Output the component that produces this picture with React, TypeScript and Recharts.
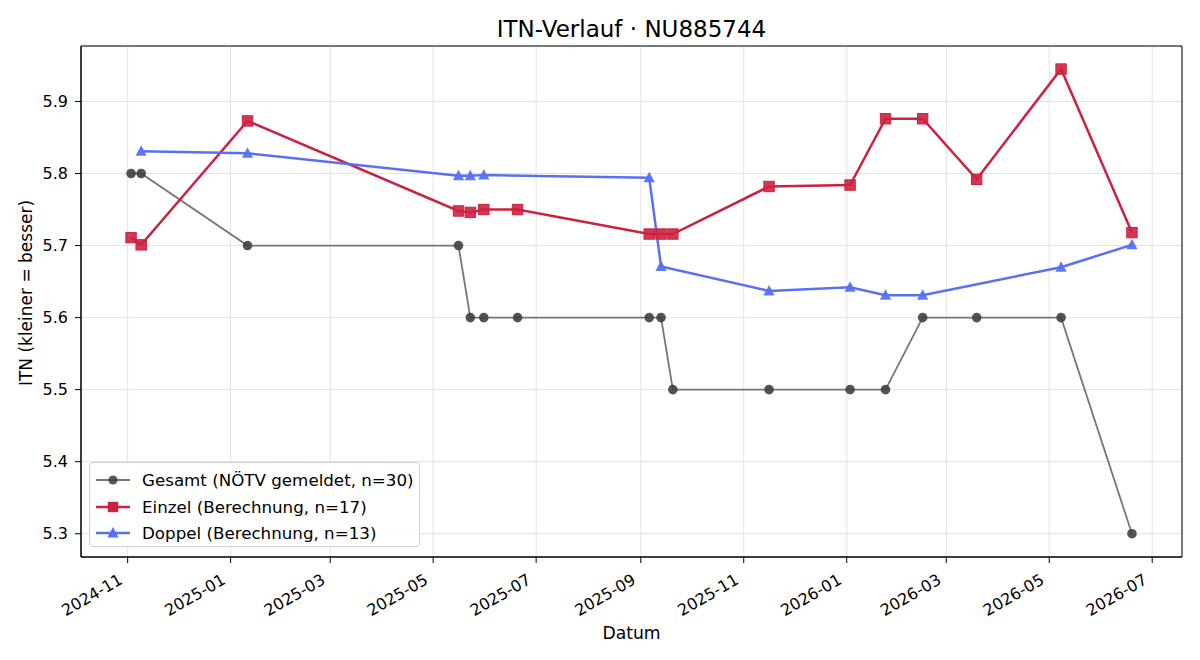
import * as React from 'react';
import { LineChart, Line, XAxis, YAxis, CartesianGrid, ReferenceArea } from 'recharts';

// ITN history for NU885744: total (reported) vs. single/double (computed)

const GESAMT_DATES = [
  '2024-11-03', '2024-11-09', '2025-01-11', '2025-05-16', '2025-05-23', '2025-05-31',
  '2025-06-20', '2025-09-06', '2025-09-13', '2025-09-20', '2025-11-16', '2026-01-03',
  '2026-01-24', '2026-02-15', '2026-03-19', '2026-05-08', '2026-06-19',
];
const GESAMT_VALUES = [5.8, 5.8, 5.7, 5.7, 5.6, 5.6, 5.6, 5.6, 5.6, 5.5, 5.5, 5.5, 5.5, 5.6, 5.6, 5.6, 5.3];

const EINZEL_DATES = [
  '2024-11-03', '2024-11-09', '2025-01-11', '2025-05-16', '2025-05-23', '2025-05-31',
  '2025-06-20', '2025-09-06', '2025-09-13', '2025-09-20', '2025-11-16', '2026-01-03',
  '2026-01-24', '2026-02-15', '2026-03-19', '2026-05-08', '2026-06-19',
];
const EINZEL_VALUES = [
  5.711, 5.701, 5.873, 5.748, 5.746, 5.75, 5.75, 5.716, 5.716, 5.716, 5.782, 5.784,
  5.876, 5.876, 5.792, 5.945, 5.718,
];

const DOPPEL_DATES = [
  '2024-11-09', '2025-01-11', '2025-05-16', '2025-05-23', '2025-05-31', '2025-09-06',
  '2025-09-13', '2025-11-16', '2026-01-03', '2026-01-24', '2026-02-15', '2026-05-08',
  '2026-06-19',
];
const DOPPEL_VALUES = [5.831, 5.828, 5.797, 5.797, 5.798, 5.794, 5.671, 5.637, 5.642, 5.631, 5.631, 5.67, 5.701];

const X_TICK_DATES = [
  '2024-11-01', '2025-01-01', '2025-03-01', '2025-05-01', '2025-07-01', '2025-09-01',
  '2025-11-01', '2026-01-01', '2026-03-01', '2026-05-01', '2026-07-01',
];
const Y_TICKS = [5.3, 5.4, 5.5, 5.6, 5.7, 5.8, 5.9];

const GRAY_LINE = '#767676';
const GRAY_DOT = '#404040';
const RED = '#cb2240';
const BLUE = '#5871f3';
const FONT = '"DejaVu Sans", sans-serif';

const toTime = (s: string) => {
  const [y, m, d] = s.split('-').map(Number);
  return Date.UTC(y, m - 1, d);
};

const DAY = 86400000;
const X_MIN = toTime('2024-11-03') - 29.65 * DAY;
const X_MAX = toTime('2026-06-19') + 29.65 * DAY;
const Y_MIN = 5.2677;
const Y_MAX = 5.977;

const zip = (dates: string[], values: number[]) =>
  dates.map((d, i) => ({ t: toTime(d), v: values[i] }));

const gesamtData = zip(GESAMT_DATES, GESAMT_VALUES);
const einzelData = zip(EINZEL_DATES, EINZEL_VALUES);
const doppelData = zip(DOPPEL_DATES, DOPPEL_VALUES);
const xTicks = X_TICK_DATES.map(toTime);

const fmtMonth = (t: number) => {
  const d = new Date(t);
  return `${d.getUTCFullYear()}-${String(d.getUTCMonth() + 1).padStart(2, '0')}`;
};

function DateTick(props: any) {
  const { x, y, payload } = props;
  const px = x - 4;
  const py = y + 18;
  return (
    <text
      x={px}
      y={py}
      textAnchor="end"
      transform={`rotate(-30, ${px}, ${py})`}
      fontSize={16}
      fontFamily={FONT}
      fill="#000"
    >
      {fmtMonth(payload.value)}
    </text>
  );
}

function CircleDot(props: any) {
  const { cx, cy, index } = props;
  if (cx == null || cy == null) return <g key={`c-${index}`} />;
  return <circle key={`c-${index}`} cx={cx} cy={cy} r={4.8} fill={GRAY_DOT} fillOpacity={0.9} />;
}

function SquareDot(props: any) {
  const { cx, cy, index } = props;
  if (cx == null || cy == null) return <g key={`s-${index}`} />;
  return (
    <rect
      key={`s-${index}`}
      x={cx - 5.2}
      y={cy - 5.2}
      width={10.4}
      height={10.4}
      fill={RED}
      fillOpacity={0.9}
      stroke={RED}
      strokeWidth={1}
    />
  );
}

function TriangleDot(props: any) {
  const { cx, cy, index } = props;
  if (cx == null || cy == null) return <g key={`t-${index}`} />;
  return (
    <path
      key={`t-${index}`}
      d={`M${cx},${cy - 6} L${cx + 5.6},${cy + 4.5} L${cx - 5.6},${cy + 4.5} Z`}
      fill={BLUE}
      fillOpacity={0.95}
    />
  );
}

const LEGEND = [
  { label: 'Gesamt (NÖTV gemeldet, n=30)', color: GRAY_LINE, width: 1.8, marker: 'circle' },
  { label: 'Einzel (Berechnung, n=17)', color: RED, width: 2.5, marker: 'square' },
  { label: 'Doppel (Berechnung, n=13)', color: BLUE, width: 2.5, marker: 'triangle' },
];

function LegendBox() {
  return (
    <div
      style={{
        position: 'absolute',
        left: 89,
        top: 462,
        width: 331,
        height: 85,
        border: '1px solid #d0d0d0',
        borderRadius: 4,
        background: 'rgba(255,255,255,0.85)',
        boxSizing: 'border-box',
        fontFamily: FONT,
        fontSize: 16.7,
      }}
    >
      {LEGEND.map((l, i) => (
        <div key={l.label} style={{ position: 'absolute', left: 5, top: 6 + i * 26.5, height: 22, display: 'flex', alignItems: 'center' }}>
          <svg width={36} height={22}>
            <line x1={1} y1={11} x2={35} y2={11} stroke={l.color} strokeWidth={l.width} />
            {l.marker === 'circle' && <circle cx={18} cy={11} r={4.6} fill={GRAY_DOT} fillOpacity={0.85} />}
            {l.marker === 'square' && <rect x={12.8} y={5.8} width={10.4} height={10.4} fill={RED} />}
            {l.marker === 'triangle' && <path d="M18,5 L23.6,15.5 L12.4,15.5 Z" fill={BLUE} />}
          </svg>
          <span style={{ marginLeft: 11, whiteSpace: 'nowrap', color: '#000', lineHeight: '22px' }}>{l.label}</span>
        </div>
      ))}
    </div>
  );
}

export default function App() {
  return (
    <div style={{ position: 'absolute', left: 0, top: 0, width: 1200, height: 660, background: '#fff' }}>
      <LineChart width={1200} height={660} margin={{ top: 46, right: 18, bottom: 0, left: 0 }}>
        <CartesianGrid stroke="#e3e3e3" strokeWidth={1} />
        <XAxis
          dataKey="t"
          type="number"
          scale="time"
          domain={[X_MIN, X_MAX]}
          ticks={xTicks}
          interval={0}
          allowDataOverflow
          height={103}
          tickSize={6}
          tickMargin={2}
          tickLine={{ stroke: '#000' }}
          axisLine={{ stroke: '#000' }}
          tick={<DateTick />}
        />
        <YAxis
          type="number"
          domain={[Y_MIN, Y_MAX]}
          ticks={Y_TICKS}
          interval={0}
          allowDataOverflow
          width={81}
          tickSize={6}
          tickMargin={7}
          tickLine={{ stroke: '#000' }}
          axisLine={{ stroke: '#000' }}
          tickFormatter={(v: number) => v.toFixed(1)}
          tick={{ fill: '#000', fontSize: 16, fontFamily: FONT }}
        />
        <ReferenceArea x1={X_MIN} x2={X_MAX} y1={Y_MIN} y2={Y_MAX} fill="none" stroke="#000" strokeWidth={1} />
        <Line
          data={gesamtData}
          dataKey="v"
          type="linear"
          stroke={GRAY_LINE}
          strokeWidth={1.8}
          dot={CircleDot}
          activeDot={false}
          isAnimationActive={false}
        />
        <Line
          data={einzelData}
          dataKey="v"
          type="linear"
          stroke={RED}
          strokeWidth={2.5}
          dot={SquareDot}
          activeDot={false}
          isAnimationActive={false}
        />
        <Line
          data={doppelData}
          dataKey="v"
          type="linear"
          stroke={BLUE}
          strokeWidth={2.5}
          dot={TriangleDot}
          activeDot={false}
          isAnimationActive={false}
        />
      </LineChart>
      <svg width={1200} height={660} style={{ position: 'absolute', left: 0, top: 0, pointerEvents: 'none' }}>
        <text x={631.5} y={37} textAnchor="middle" fontSize={23} fontFamily={FONT} fill="#000">
          ITN-Verlauf · NU885744
        </text>
        <text x={631.5} y={639} textAnchor="middle" fontSize={17.2} fontFamily={FONT} fill="#000">
          Datum
        </text>
        <text x={32} y={293} textAnchor="middle" transform="rotate(-90, 32, 293)" fontSize={17} fontFamily={FONT} fill="#000">
          ITN  (kleiner = besser)
        </text>
      </svg>
      <LegendBox />
    </div>
  );
}
